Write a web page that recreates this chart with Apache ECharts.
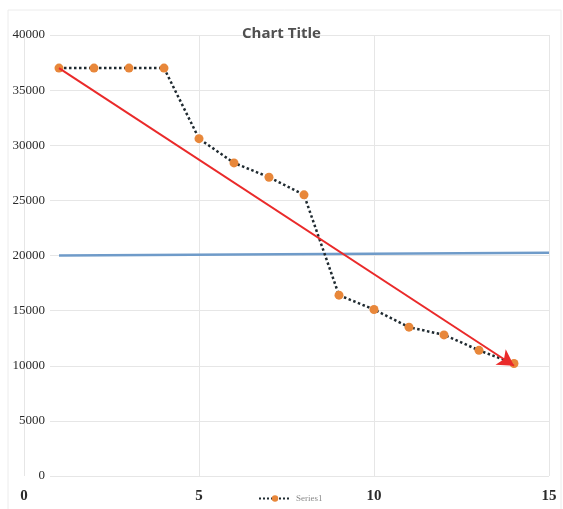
<!DOCTYPE html>
<html>
<head>
<meta charset="utf-8">
<script src="https://cdn.jsdelivr.net/npm/echarts@6/dist/echarts.min.js"></script>
<style>
  html, body { margin: 0; padding: 0; background: #fff; }
  #chart { width: 563px; height: 509px; }
</style>
</head>
<body>
<div id="chart"></div>
<script>
// Series1 points (x, value)
const xValues = [1, 2, 3, 4, 5, 6, 7, 8, 9, 10, 11, 12, 13, 14];
const series1 = [37000, 37000, 37000, 37000, 30600, 28400, 27100, 25500, 16400, 15100, 13500, 12800, 11400, 10200];

// Reference line (blue) and trend arrow (red) end points
const refLineX = [1, 15];
const refLineY = [20000, 20250];
const trendX = [1, 14];
const trendY = [37000, 10000];

// Axis ticks
const xTicks = [0, 5, 10, 15];
const yTicks = [0, 5000, 10000, 15000, 20000, 25000, 30000, 35000, 40000];

const chart = echarts.init(document.getElementById('chart'));

const seriesData = xValues.map((x, i) => [x, series1[i]]);

chart.setOption({
  animation: false,
  backgroundColor: '#ffffff',
  title: {
    text: 'Chart Title',
    left: 'center',
    top: 21,
    textStyle: { fontFamily: 'Open Sans', fontWeight: 'bold', fontSize: 15, color: '#505050' }
  },
  legend: {
    data: ['Series1'],
    left: 253,
    top: 489,
    itemWidth: 32,
    itemHeight: 8,
    itemGap: 4,
    textStyle: { fontFamily: 'Liberation Serif', fontSize: 9, color: '#8a8a8a' }
  },
  graphic: [{
    type: 'rect',
    shape: { x: 8, y: 10, width: 553, height: 505 },
    style: { fill: 'none', stroke: '#ececec', lineWidth: 1 },
    silent: true,
    z: -10
  }],
  grid: [
    { left: 24, right: 14, top: 35, bottom: 33 },
    { left: 50, right: 14, top: 35, bottom: 33 }
  ],
  xAxis: [{
    type: 'value',
    gridIndex: 0,
    min: 0, max: 15, interval: 5,
    axisLine: { show: false },
    axisTick: { show: false },
    splitLine: { show: true, lineStyle: { color: '#e6e6e6', width: 1 } },
    axisLabel: {
      margin: 13,
      fontFamily: 'Liberation Serif',
      fontWeight: 'bold',
      fontSize: 15,
      color: '#2a2a2a',
      formatter: v => xTicks.includes(v) ? String(v) : ''
    }
  }, {
    type: 'value',
    gridIndex: 1,
    min: 0, max: 15,
    show: false
  }],
  yAxis: [{
    type: 'value',
    gridIndex: 0,
    min: 0, max: 40000, interval: 5000,
    offset: -22,
    axisLine: { show: false },
    axisTick: { show: false },
    splitLine: { show: false },
    axisLabel: {
      margin: 1,
      fontFamily: 'Liberation Serif',
      fontSize: 13,
      color: '#2a2a2a',
      formatter: v => yTicks.includes(v) ? String(v) : ''
    }
  }, {
    type: 'value',
    gridIndex: 1,
    min: 0, max: 40000, interval: 5000,
    axisLine: { show: false },
    axisTick: { show: false },
    axisLabel: { show: false },
    splitLine: { show: true, lineStyle: { color: '#e6e6e6', width: 1 } }
  }],
  series: [{
    name: 'Series1',
    type: 'line',
    xAxisIndex: 0,
    yAxisIndex: 0,
    data: seriesData,
    symbol: 'circle',
    symbolSize: 9,
    z: 5,
    itemStyle: { color: '#e8873a' },
    lineStyle: { color: '#1f2a30', width: 2.5, type: 'dotted' },
    markLine: {
      silent: true,
      symbol: ['none', 'none'],
      label: { show: false },
      lineStyle: { color: '#6f9bc9', width: 2.5, type: 'solid' },
      data: [[
        { coord: [refLineX[0], refLineY[0]] },
        { coord: [refLineX[1], refLineY[1]] }
      ]]
    }
  }, {
    name: 'trend',
    type: 'line',
    xAxisIndex: 0,
    yAxisIndex: 0,
    data: [],
    z: 10,
    markLine: {
      silent: true,
      z: 10,
      symbol: ['none', 'arrow'],
      symbolSize: [14, 16],
      label: { show: false },
      lineStyle: { color: '#ea2a2a', width: 2, type: 'solid' },
      data: [[
        { coord: [trendX[0], trendY[0]] },
        { coord: [trendX[1], trendY[1]] }
      ]]
    }
  }]
});
</script>
</body>
</html>
